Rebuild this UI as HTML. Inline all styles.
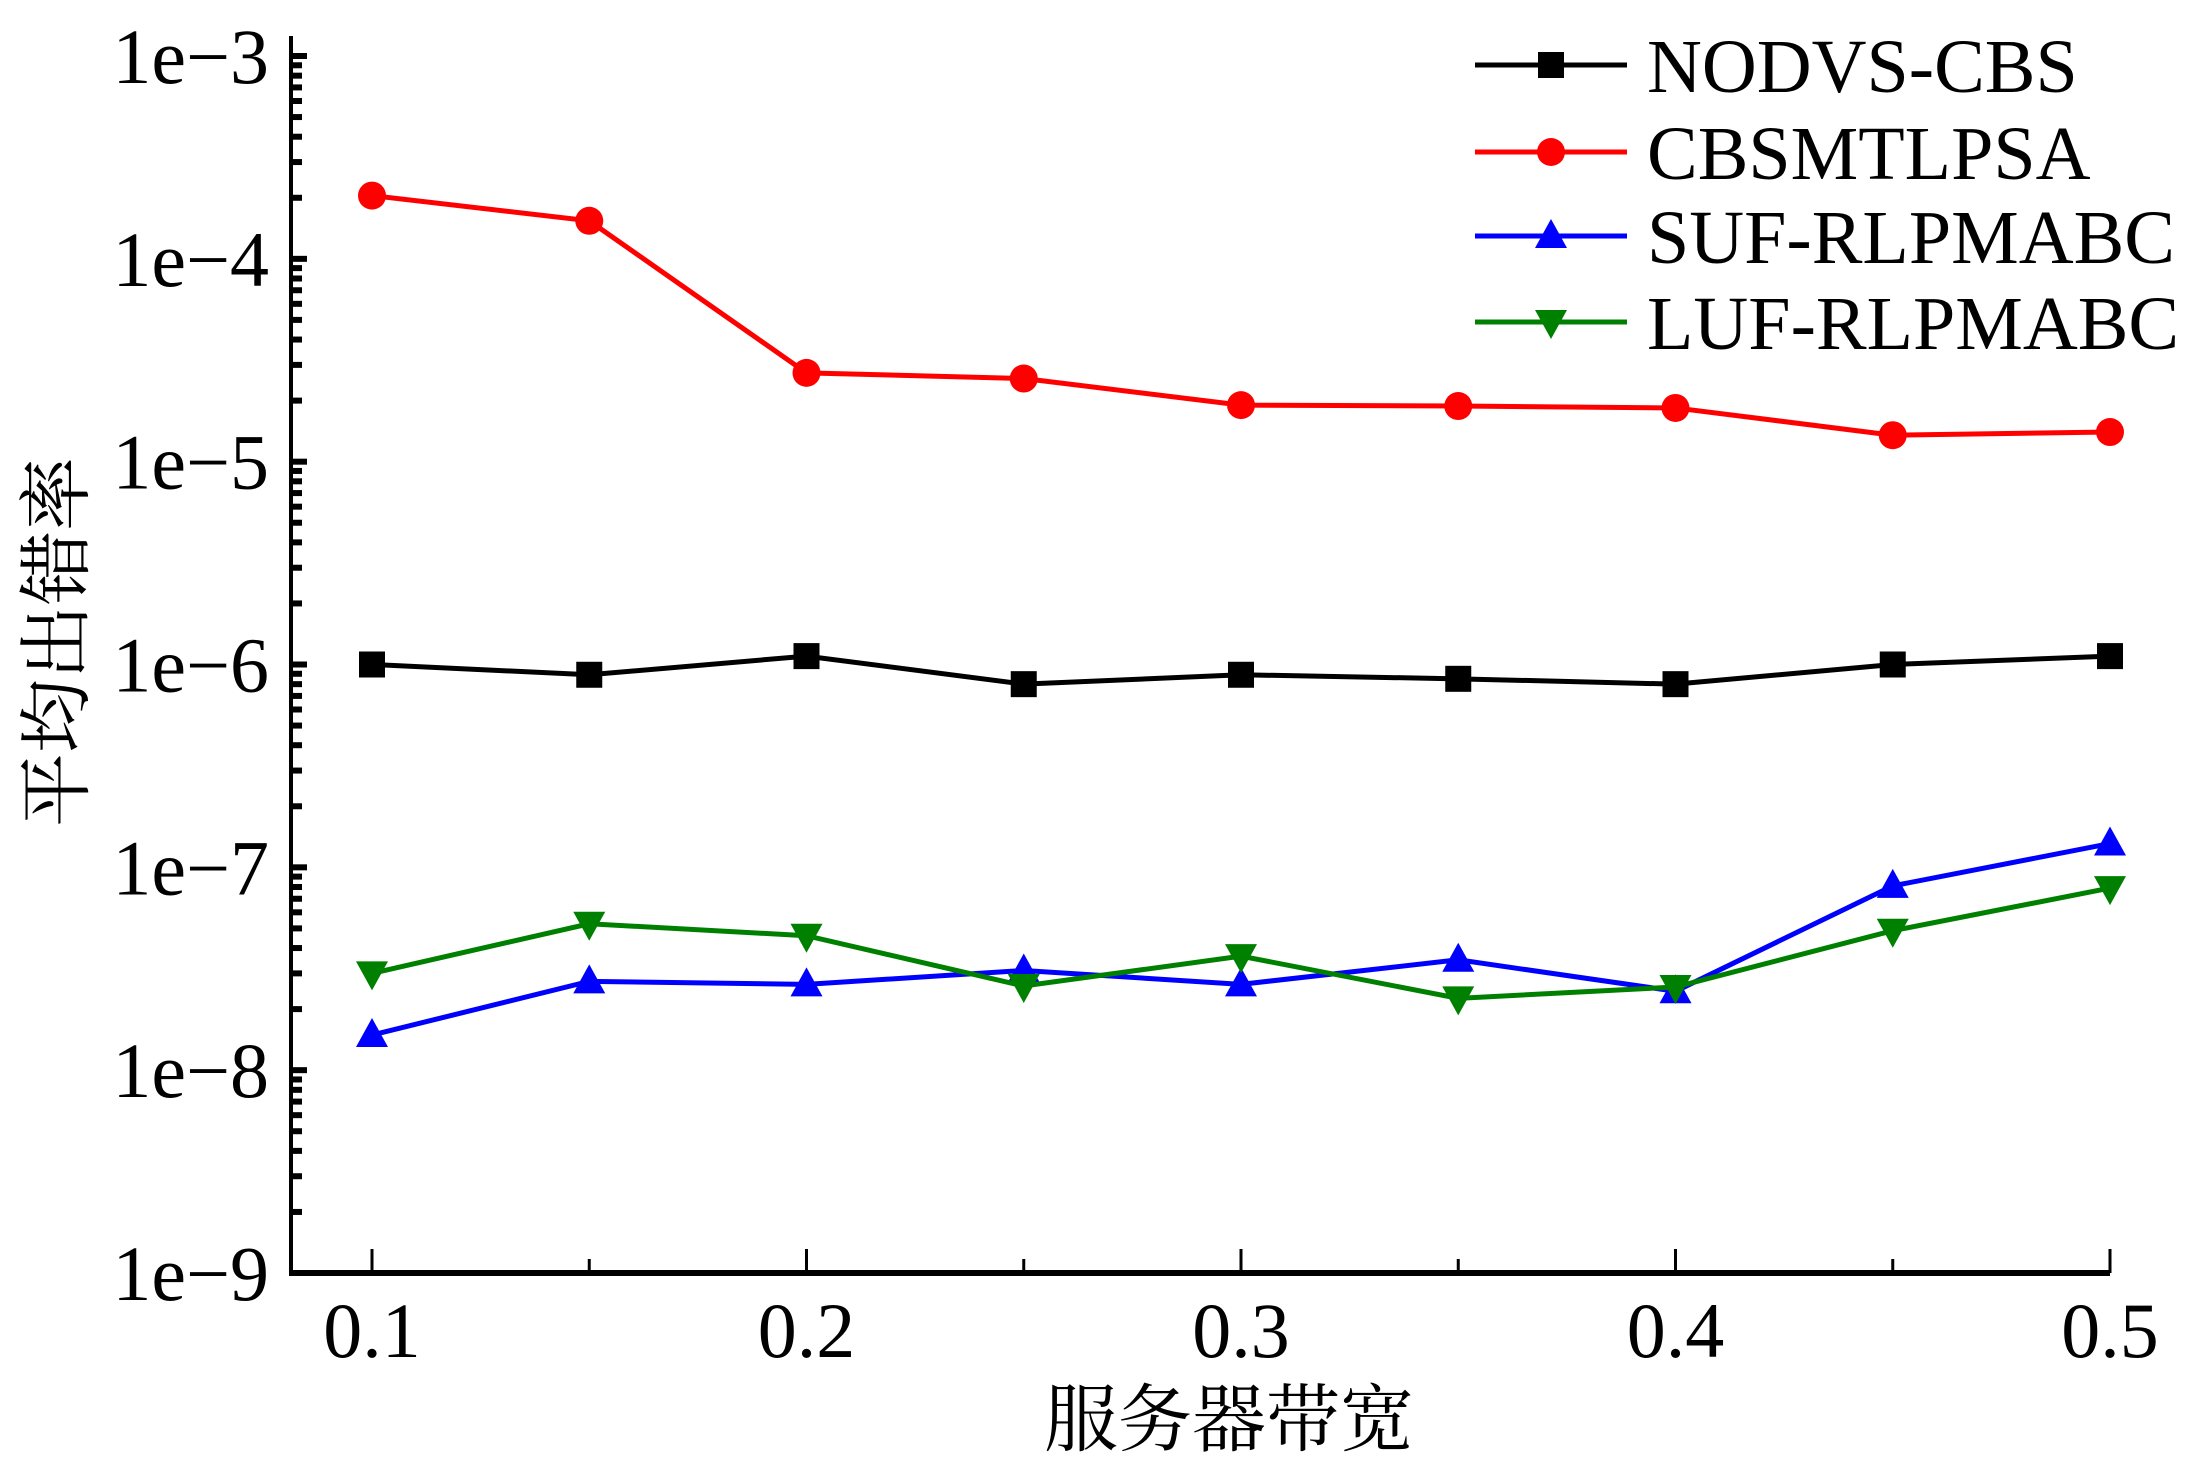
<!DOCTYPE html>
<html><head><meta charset="utf-8"><style>
html,body{margin:0;padding:0;background:#fff;}
svg{display:block;}
text{font-family:"Liberation Serif","Noto Serif CJK SC",serif;fill:#000;}
</style></head><body>
<svg id="chart" width="2203" height="1469" viewBox="0 0 2203 1469" xmlns="http://www.w3.org/2000/svg"></svg>
<script>
const categories=[0.1,0.15,0.2,0.25,0.3,0.35,0.4,0.45,0.5];
const seriesNames=["NODVS-CBS","CBSMTLPSA","SUF-RLPMABC","LUF-RLPMABC"];
const nodvsValues=[1.0e-6,0.89e-6,1.1e-6,0.8e-6,0.89e-6,0.85e-6,0.8e-6,1.0e-6,1.1e-6];
const cbsValues=[2.05e-4,1.54e-4,2.74e-5,2.57e-5,1.9e-5,1.88e-5,1.84e-5,1.35e-5,1.4e-5];
const sufValues=[1.49e-8,2.74e-8,2.65e-8,3.1e-8,2.65e-8,3.5e-8,2.45e-8,8.1e-8,1.31e-7];
const lufValues=[3.0e-8,5.27e-8,4.6e-8,2.6e-8,3.65e-8,2.26e-8,2.57e-8,4.87e-8,7.9e-8];
const yTickExps=[-3,-4,-5,-6,-7,-8,-9];
const xTickLabels=["0.1","0.2","0.3","0.4","0.5"];

const NS="http://www.w3.org/2000/svg";
const svg=document.getElementById('chart');
const L=291,R=2110,B=1273,T=56;
const X0=372,X1=2110;
function xs(v){return X0+(v-0.1)/(0.5-0.1)*(X1-X0);}
function ys(v){return T+(-3-Math.log10(v))/6*(B-T);}
function mk(tag,attrs,parent){const e=document.createElementNS(NS,tag);for(const k in attrs)e.setAttribute(k,attrs[k]);(parent||svg).appendChild(e);return e;}

let ax=mk('line',{x1:L,y1:T-20,x2:L,y2:B+3,stroke:'#000','stroke-width':4});


let bx=mk('line',{x1:L-2,y1:B,x2:R,y2:B,stroke:'#000','stroke-width':6});



yTickExps.forEach(e=>{
  const y=ys(Math.pow(10,e));
  let t=mk('line',{x1:L,y1:y,x2:L+16,y2:y,stroke:'#000','stroke-width':6});
  
  
  let lb=mk('text',{x:L-22,y:y+27,'font-size':78,'text-anchor':'end'});
  lb.textContent='1e\u2212'+(-e);
  
  
  if(e>-9){for(let m=2;m<=9;m++){
    const ym=ys(m*Math.pow(10,e-1));
    let mt=mk('line',{x1:L,y1:ym,x2:L+11,y2:ym,stroke:'#000','stroke-width':6});
    
    
  }}
});
categories.forEach((c,i)=>{
  const x=xs(c);const major=(i%2===0);
  let t=mk('line',{x1:x,y1:B,x2:x,y2:B-(major?24:14),stroke:'#000','stroke-width':3});
  
  
});
xTickLabels.forEach(s=>{
  let lb=mk('text',{x:xs(parseFloat(s)),y:1357,'font-size':78,'text-anchor':'middle'});
  lb.textContent=s;
  
  
});
let xt=mk('text',{x:1229,y:1445,'font-size':74,'text-anchor':'middle'});
xt.textContent='服务器带宽';


let yt=mk('text',{x:0,y:0,'font-size':74,'text-anchor':'middle',transform:'translate(82,642) rotate(-90)'});
yt.textContent='平均出错率';



function marker(type,x,y,color,g){
  if(type==='square') return mk('rect',{x:x-13,y:y-13,width:26,height:26,fill:color},g);
  if(type==='circle') return mk('circle',{cx:x,cy:y,r:14,fill:color},g);
  if(type==='up') return mk('polygon',{points:`${x},${y-17} ${x-16},${y+12} ${x+16},${y+12}`,fill:color},g);
  return mk('polygon',{points:`${x},${y+17} ${x-16},${y-12} ${x+16},${y-12}`,fill:color},g);
}
const series=[
 {name:seriesNames[0],vals:nodvsValues,color:'#000000',m:'square',id:'nodvs-cbs'},
 {name:seriesNames[1],vals:cbsValues,color:'#ff0000',m:'circle',id:'cbsmtlpsa'},
 {name:seriesNames[2],vals:sufValues,color:'#0000ff',m:'up',id:'suf-rlpmabc'},
 {name:seriesNames[3],vals:lufValues,color:'#008000',m:'down',id:'luf-rlpmabc'}
];
const legY=[65,152,236,322];
series.forEach((s,si)=>{
  const g=mk('g',{});
  
  
  const pts=s.vals.map((v,i)=>xs(categories[i])+','+ys(v)).join(' ');
  let pl=mk('polyline',{points:pts,fill:'none',stroke:s.color,'stroke-width':5},g);
  
  
  s.vals.forEach((v,i)=>{
    let p=marker(s.m,xs(categories[i]),ys(v),s.color,g);
    
    
  });
  const lg=mk('g',{});
  
  
  const y=legY[si];
  mk('line',{x1:1475,y1:y,x2:1627,y2:y,stroke:s.color,'stroke-width':5},lg);
  marker(s.m,1551,y,s.color,lg);
  let tx=mk('text',{x:1647,y:y+27,'font-size':76},lg);
  tx.textContent=s.name;
});
</script>
</body></html>
